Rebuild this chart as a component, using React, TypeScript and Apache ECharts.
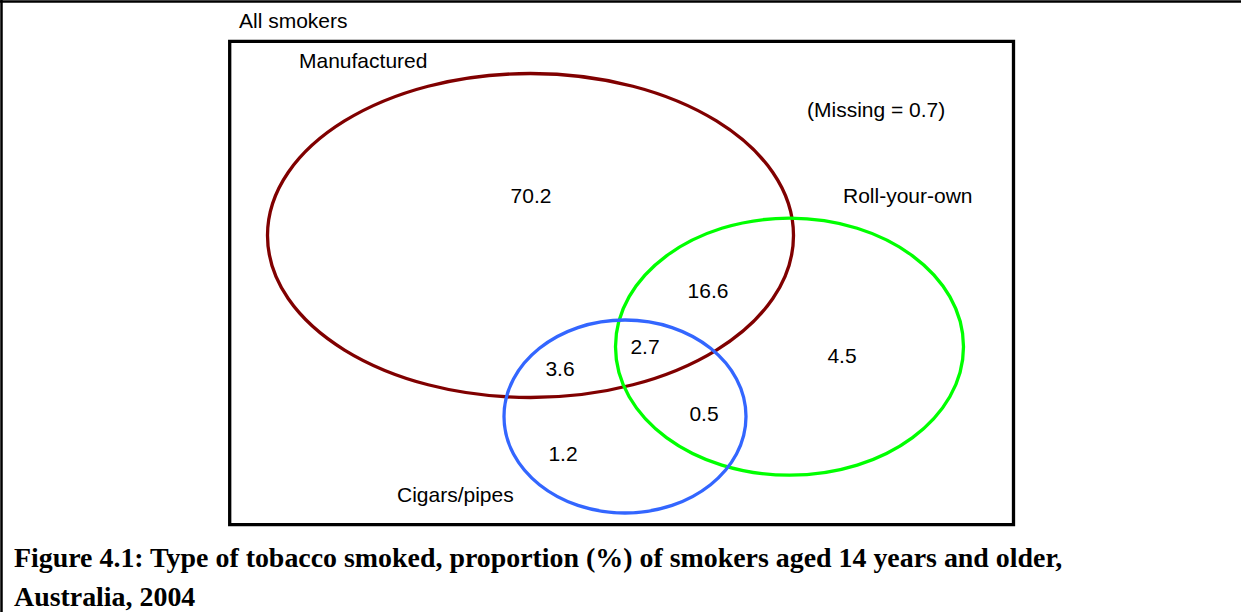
import React, { useEffect, useRef } from "react";
import * as echarts from "echarts";

// ---- data ----
const universeLabel = "All smokers";
const setNames = ["Manufactured", "Roll-your-own", "Cigars/pipes"];
const regionKeys = ["M", "MR", "MRC", "MC", "R", "RC", "C"];
const regionValues = [70.2, 16.6, 2.7, 3.6, 4.5, 0.5, 1.2];
const missingLabel = "Missing";
const missingValue = 0.7;
const captionLines = [
  "Figure 4.1: Type of tobacco smoked, proportion (%) of smokers aged 14 years and older,",
  "Australia, 2004",
];

// ---- layout / style ----
const setColors = ["#800000", "#00ff00", "#3366ff"];
const ELLIPSES = [
  { cx: 530.5, cy: 235.5, rx: 263, ry: 162 },
  { cx: 789.5, cy: 346.7, rx: 174, ry: 128.5 },
  { cx: 625, cy: 416.5, rx: 121, ry: 96.5 },
];
const SET_LABEL_POS: Record<string, [number, number]> = {
  Manufactured: [299, 60],
  "Roll-your-own": [843, 195],
  "Cigars/pipes": [397, 494],
};
const REGION_POS: Record<string, [number, number]> = {
  M: [531, 195],
  MR: [708, 290],
  MRC: [645, 346],
  MC: [560, 368],
  R: [842, 355],
  RC: [704, 413],
  C: [563, 453],
};
const LABEL_FONT = '21px "Liberation Sans", Arial, sans-serif';
const CAPTION_FONT = 'bold 27.9px "Liberation Serif", "Times New Roman", serif';

function txt(text: string, x: number, y: number, font: string, align = "left") {
  return {
    type: "text",
    x,
    y,
    silent: true,
    style: {
      text,
      fill: "#000",
      font,
      align,
      verticalAlign: "middle",
      textAlign: align,
      textVerticalAlign: "middle",
    },
  };
}

export default function App() {
  const ref = useRef<HTMLDivElement>(null);
  useEffect(() => {
    if (!ref.current) return;
    const chart = echarts.init(ref.current, null, { renderer: "svg" });
    const elements: any[] = [];
    // page frame (top and left rules)
    elements.push({
      type: "line",
      silent: true,
      shape: { x1: 0, y1: 1.5, x2: 1241, y2: 1.5 },
      style: { stroke: "#000", lineWidth: 2.5 },
    });
    elements.push({
      type: "line",
      silent: true,
      shape: { x1: 1.5, y1: 0, x2: 1.5, y2: 612 },
      style: { stroke: "#000", lineWidth: 2.5 },
    });
    // universe box
    elements.push({
      type: "rect",
      silent: true,
      shape: { x: 229.7, y: 41.3, width: 783.8, height: 483.4 },
      style: { fill: "none", stroke: "#000", lineWidth: 3.3 },
    });
    elements.push(txt(universeLabel, 239, 20.5, LABEL_FONT));
    // sets
    setNames.forEach((name, i) => {
      const e = ELLIPSES[i];
      elements.push({
        type: "ellipse",
        silent: true,
        shape: { cx: e.cx, cy: e.cy, rx: e.rx, ry: e.ry },
        style: { fill: "none", stroke: setColors[i], lineWidth: 3.3 },
      });
      const p = SET_LABEL_POS[name];
      elements.push(txt(name, p[0], p[1], LABEL_FONT));
    });
    // regions
    regionKeys.forEach((k, i) => {
      const p = REGION_POS[k];
      elements.push(txt(regionValues[i].toFixed(1), p[0], p[1], LABEL_FONT, "center"));
    });
    elements.push(txt(`(${missingLabel} = ${missingValue})`, 807, 109, LABEL_FONT));
    // caption
    captionLines.forEach((line, i) => {
      elements.push(txt(line, 14, 557 + i * 39, CAPTION_FONT));
    });
    chart.setOption({ animation: false, graphic: { elements } });
    return () => chart.dispose();
  }, []);
  return (
    <div
      ref={ref}
      style={{ position: "absolute", left: 0, top: 0, width: 1241, height: 612, background: "#fff" }}
    />
  );
}
